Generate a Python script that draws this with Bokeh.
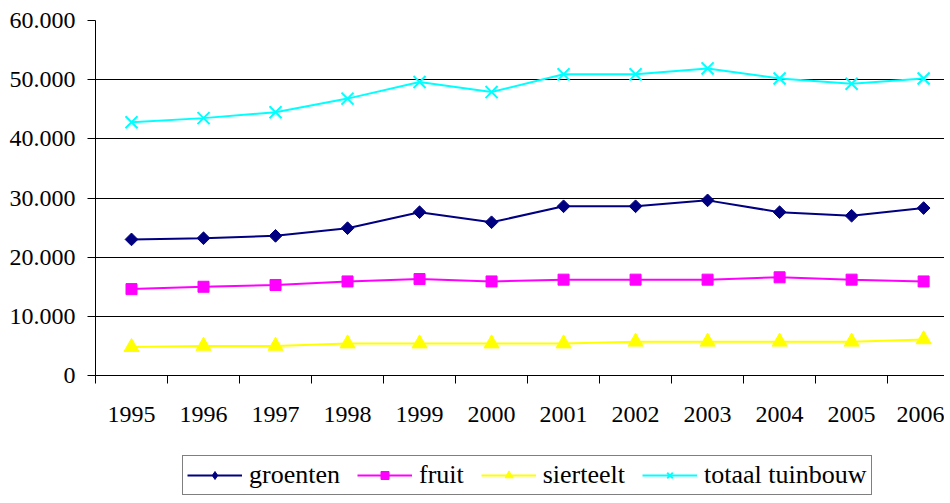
import math
from bokeh.plotting import figure
from bokeh.layouts import column
from bokeh.models import FixedTicker, Legend, LegendItem, Range1d
from bokeh.embed import file_html
from bokeh.resources import INLINE

# ---- data ----
years = ["1995", "1996", "1997", "1998", "1999", "2000",
         "2001", "2002", "2003", "2004", "2005", "2006"]
groenten = [23000, 23200, 23600, 24900, 27600, 25900,
            28600, 28600, 29600, 27600, 27000, 28300]
fruit = [14600, 15000, 15300, 15900, 16300, 15900,
         16200, 16200, 16200, 16600, 16200, 15900]
sierteelt = [4800, 5000, 5000, 5400, 5400, 5400,
             5400, 5700, 5700, 5700, 5700, 6100]
totaal = [42800, 43500, 44500, 46800, 49600, 47900,
          50900, 50900, 51900, 50200, 49300, 50200]
y_ticks = [0, 10000, 20000, 30000, 40000, 50000, 60000]
y_tick_labels = ["0", "10.000", "20.000", "30.000", "40.000", "50.000", "60.000"]
series_names = ["groenten", "fruit", "sierteelt", "totaal tuinbouw"]

xs = list(range(len(years)))
FONT = "Liberation Serif"

styles = [
    dict(color="#000080", marker="square", angle=math.pi / 4, size=9),
    dict(color="#FF00FF", marker="square", angle=0, size=11),
    dict(color="#FFFF00", marker="triangle", angle=0, size=15),
    dict(color="#00FFFF", marker="x", angle=0, size=17),
]
legend_styles = [
    dict(color="#000080", marker="diamond", angle=0, size=13),
    dict(color="#FF00FF", marker="square", angle=0, size=9),
    dict(color="#FFFF00", marker="triangle", angle=0, size=13),
    dict(color="#00FFFF", marker="x", angle=0, size=14),
]
series = [groenten, fruit, sierteelt, totaal]

p = figure(width=944, height=437, output_backend="svg", toolbar_location=None,
           x_range=Range1d(-0.5, 11.29), y_range=Range1d(0, 60000),
           min_border_left=95, min_border_right=0, min_border_top=20,
           min_border_bottom=62)
p.outline_line_color = None

# axes
p.xaxis.ticker = FixedTicker(ticks=xs, minor_ticks=[i - 0.5 for i in range(len(years) + 1)])
p.xaxis.major_label_overrides = {i: y for i, y in zip(xs, years)}
p.xaxis.major_tick_out = 8
p.xaxis.major_tick_in = 0
p.xaxis.major_tick_line_color = None
p.xaxis.minor_tick_out = 8
p.xaxis.minor_tick_in = 0
p.xaxis.minor_tick_line_color = "black"
p.xaxis.axis_line_color = "black"
p.xaxis.major_label_standoff = 23
p.xaxis.major_label_text_font = FONT
p.xaxis.major_label_text_font_size = "24px"
p.xaxis.major_label_text_color = "black"

p.yaxis.ticker = FixedTicker(ticks=y_ticks, minor_ticks=[])
p.yaxis.major_label_overrides = {t: l for t, l in zip(y_ticks, y_tick_labels)}
p.yaxis.major_tick_out = 8
p.yaxis.major_tick_in = 0
p.yaxis.major_tick_line_color = "black"
p.yaxis.axis_line_color = "black"
p.yaxis.major_label_standoff = 12
p.yaxis.major_label_text_font = FONT
p.yaxis.major_label_text_font_size = "24px"
p.yaxis.major_label_text_color = "black"

p.xgrid.visible = False
p.ygrid.ticker = FixedTicker(ticks=y_ticks)
p.ygrid.grid_line_color = "black"
p.ygrid.grid_line_width = 1


def draw(fig, vals, st):
    ln = fig.line(xs, vals, line_color=st["color"], line_width=2)
    if st["marker"] == "x":
        mk = fig.scatter(xs, vals, marker="x", size=st["size"],
                         line_color=st["color"], line_width=2)
    else:
        mk = fig.scatter(xs, vals, marker=st["marker"], angle=st["angle"],
                         size=st["size"], fill_color=st["color"],
                         line_color=st["color"])
    return ln, mk


for vals, st in zip(series, styles):
    draw(p, vals, st)

# legend figure (same series, drawn out of its visible range)
q = figure(width=944, height=58, output_backend="svg", toolbar_location=None,
           x_range=Range1d(0, 1), y_range=Range1d(-2, -1),
           x_axis_type=None, y_axis_type=None,
           min_border_left=0, min_border_right=0, min_border_top=0,
           min_border_bottom=0)
q.outline_line_color = None
q.xgrid.visible = False
q.ygrid.visible = False

items = []
for name, vals, st in zip(series_names, series, legend_styles):
    ln, mk = draw(q, vals, st)
    items.append(LegendItem(label=name, renderers=[ln, mk]))

legend = Legend(items=items, orientation="horizontal", location=(87, 0),
                glyph_width=55, glyph_height=20, label_standoff=7, spacing=17,
                padding=4, margin=0,
                label_text_font=FONT, label_text_font_size="26px",
                label_text_color="black",
                border_line_color="black", border_line_width=1,
                background_fill_color="white", background_fill_alpha=1)
q.add_layout(legend, "center")

layout = column(p, q, spacing=0)
open("out.html", "w").write(file_html(layout, INLINE))
